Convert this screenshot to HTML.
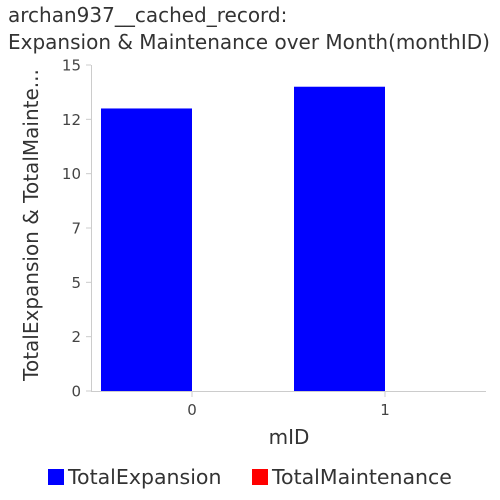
<!DOCTYPE html>
<html><head><meta charset="utf-8"><style>
body{margin:0;background:#fff;}
svg{display:block;font-family:"DejaVu Sans","Liberation Sans",sans-serif;}
</style></head><body>
<svg id="chart" width="500" height="500">
<text x="8" y="22" font-size="20" fill="#333">archan937__cached_record:</text>
<text x="8" y="49" font-size="20" fill="#333">Expansion &amp; Maintenance over Month(monthID)</text>
<g id="yaxis"></g>
<g id="xaxis"></g>
<g id="bars"></g>
<text transform="translate(38,225) rotate(-90)" text-anchor="middle" font-size="20" fill="#333">TotalExpansion &amp; TotalMainte...</text>
<text x="289" y="444" text-anchor="middle" font-size="20" fill="#333">mID</text>
<rect x="48" y="469" width="16" height="16" fill="#0000ff"/>
<text x="68" y="484" font-size="20.5" fill="#333">TotalExpansion</text>
<rect x="252" y="469" width="16" height="16" fill="#ff0000"/>
<text x="272" y="484" font-size="20.5" fill="#333">TotalMaintenance</text>
</svg>
<script>
const categories = ["0", "1"];
const expansion = [13.0, 14.0];
const maintenance = [0, 0];
const yTicks = [0, 2.5, 5, 7.5, 10, 12.5, 15];
const yTickLabels = ["0", "2", "5", "7", "10", "12", "15"];

const NS = "http://www.w3.org/2000/svg";
const y0 = 391, yTop = 65, yMax = 15;
const yScale = v => y0 - (v / yMax) * (y0 - yTop);
const xCenter = i => 192 + 193 * i;
const bw = 91;
function mk(tag, attrs, parent) {
  const e = document.createElementNS(NS, tag);
  for (const k in attrs) e.setAttribute(k, attrs[k]);
  parent.appendChild(e);
  return e;
}
const ya = document.getElementById('yaxis');
const xa = document.getElementById('xaxis');
const bars = document.getElementById('bars');
let l = mk('line', {x1: 91.5, y1: yTop, x2: 91.5, y2: y0, stroke: '#ccc'}, ya);


yTicks.forEach((v, i) => {
  const y = yScale(v);
  const t = mk('line', {x1: 86, y1: y, x2: 91, y2: y, stroke: '#ccc'}, ya);
  
  
  const tx = mk('text', {x: 81, y: y + 5.5, 'text-anchor': 'end', 'font-size': 15, fill: '#444'}, ya);
  tx.textContent = yTickLabels[i];
  
  
});
l = mk('line', {x1: 91, y1: y0 + 0.5, x2: 486, y2: y0 + 0.5, stroke: '#ccc'}, xa);


categories.forEach((c, i) => {
  const x = xCenter(i);
  const t = mk('line', {x1: x, y1: y0, x2: x, y2: y0 + 6, stroke: '#ccc'}, xa);
  
  
  const tx = mk('text', {x: x, y: y0 + 24, 'text-anchor': 'middle', 'font-size': 15, fill: '#444'}, xa);
  tx.textContent = c;
  
  
  const b1 = mk('rect', {x: x - bw, y: yScale(expansion[i]), width: bw, height: y0 - yScale(expansion[i]), fill: '#0000ff'}, bars);
  
  
  const b2 = mk('rect', {x: x, y: yScale(maintenance[i]), width: bw, height: y0 - yScale(maintenance[i]), fill: '#ff0000'}, bars);
  
  
});
</script>
</body></html>
